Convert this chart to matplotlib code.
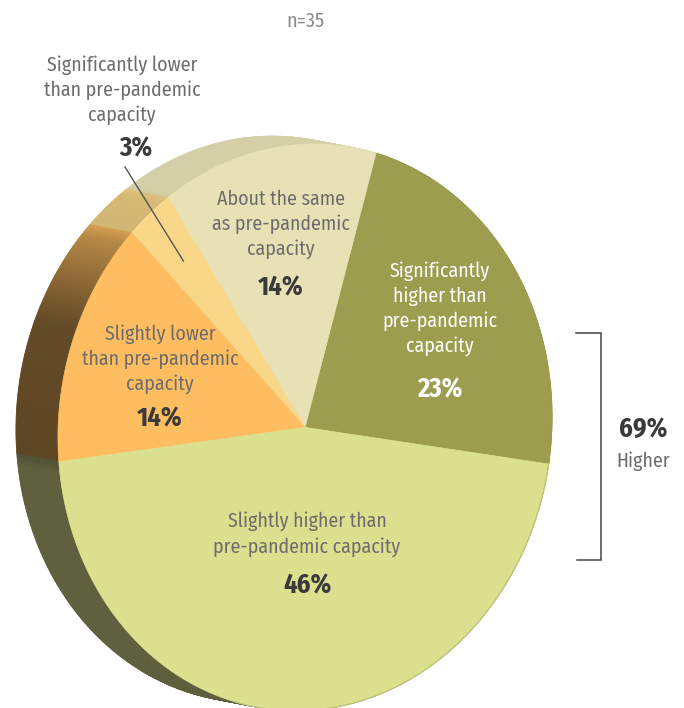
import numpy as np
import matplotlib.pyplot as plt
from matplotlib.patches import Polygon
from matplotlib.colors import to_rgb

# ---------------- data ----------------
categories = [
    "Significantly\nhigher than\npre-pandemic\ncapacity",
    "About the same\nas pre-pandemic\ncapacity",
    "Significantly lower\nthan pre-pandemic\ncapacity",
    "Slightly lower\nthan pre-pandemic\ncapacity",
    "Slightly higher than\npre-pandemic capacity",
]
shares = [23, 14, 3, 14, 46]
sample_note = "n=35"
group_share = 69
group_label = "Higher"

# ---------------- style ----------------
face_colors = ["#9d9d4f", "#e8e1b5", "#f8d888", "#fdbd60", "#dbe08f"]
label_colors = ["#ffffff", "#6c6c6c", "#6c6c6c", "#6c6c6c", "#6c6c6c"]
pct_colors = ["#ffffff", "#3a3a3a", "#3a3a3a", "#3a3a3a", "#3a3a3a"]
GRAY = "#6c6c6c"
DARK = "#3a3a3a"
FONT = ["Fira Sans Condensed", "DejaVu Sans"]

W, H, DPI = 684, 708, 100

# tilted disc: top face ellipse and the offset of its hidden bottom face
CX, CY = 305.0, 427.4
RA, RB = 246.4, 283.9
ROT = np.radians(7.39)
E1 = np.array([np.cos(ROT), np.sin(ROT)])
E2 = np.array([-np.sin(ROT), np.cos(ROT)])
DEPTH = np.array([-42.0, -8.0])
START = -1.0  # angle where the first slice begins (counter-clockwise)


def rim(t_deg, shift=(0.0, 0.0)):
    t = np.radians(np.atleast_1d(t_deg))
    x = CX + shift[0] + RA * np.cos(t) * E1[0] - RB * np.sin(t) * E2[0]
    y = CY + shift[1] + RA * np.cos(t) * E1[1] - RB * np.sin(t) * E2[1]
    return np.column_stack([x, y])


# light falling on the side wall, by angle around the disc
shade_t = [0, 80, 131, 134, 143, 146, 152, 166, 194, 196, 360]
shade_f = [0.90, 0.92, 0.92, 0.86, 0.84, 0.72, 0.62, 0.39, 0.37, 0.43, 0.43]

fig = plt.figure(figsize=(W / DPI, H / DPI), dpi=DPI)
ax = fig.add_axes([0, 0, 1, 1])
ax.set_xlim(0, W)
ax.set_ylim(H, 0)
ax.axis("off")

bounds = START + np.concatenate([[0], np.cumsum(shares)]) * 3.6

# side wall
for i in range(len(shares)):
    base = np.array(to_rgb(face_colors[i]))
    ts = np.arange(bounds[i], bounds[i + 1] + 1e-9, 0.5)
    if ts[-1] < bounds[i + 1]:
        ts = np.append(ts, bounds[i + 1])
    f = rim(ts)
    b = rim(ts, DEPTH)
    for k in range(len(ts) - 1):
        tm = (ts[k] + ts[k + 1]) / 2 % 360
        col = np.clip(base * np.interp(tm, shade_t, shade_f), 0, 1)
        poly = np.array([f[k], f[k + 1], b[k + 1], b[k]])
        ax.add_patch(Polygon(poly, closed=True, facecolor=col, edgecolor=col,
                             lw=0.6, zorder=1))

# top face
for i in range(len(shares)):
    ts = np.linspace(bounds[i], bounds[i + 1], 200)
    pts = np.vstack([[CX, CY], rim(ts)])
    ax.add_patch(Polygon(pts, closed=True, facecolor=face_colors[i],
                         edgecolor=face_colors[i], lw=0.5, zorder=2))

# faint rim on the lit right edge of the largest slice
edge_t = np.linspace(262, bounds[-1], 200)
edge = rim(edge_t)
ax.plot(edge[:, 0], edge[:, 1], color="#bfc477", lw=0.9, zorder=3)


def put_lines(x, y0, text, pitch, **kw):
    for j, line in enumerate(text.split("\n")):
        ax.text(x, y0 + j * pitch, line, ha="center", va="baseline",
                family=FONT, zorder=5, **kw)


LBL = 14.3
PCT = 19
label_pos = [(440, 277), (281, 205), (122, 71), (160, 340), (307, 527)]
pct_pos = [(440, 397), (281, 295), (136, 156), (160, 426), (307, 593)]
pitches = [25, 25, 25, 25, 26]
for i in range(len(shares)):
    put_lines(label_pos[i][0], label_pos[i][1], categories[i], pitches[i],
              fontsize=LBL, color=label_colors[i])
    ax.text(pct_pos[i][0], pct_pos[i][1], f"{shares[i]}%", ha="center",
            va="baseline", family=FONT, fontsize=PCT, fontweight="bold",
            color=pct_colors[i], zorder=5)

# leader from the small slice's label into the slice
mid = (bounds[2] + bounds[3]) / 2
tip = np.array([CX, CY]) + 0.78 * (rim(mid)[0] - np.array([CX, CY]))
ax.plot([125, tip[0]], [167, tip[1]], color="#555555", lw=1.0, zorder=6)

ax.text(305, 27, sample_note, ha="center", va="baseline", family=FONT,
        fontsize=14.5, color="#8c8c8c")

# bracket grouping the two "higher" slices
ax.plot([576, 601, 601, 577], [333, 333, 560, 560], color="#444444", lw=1.1,
        solid_joinstyle="miter")
ax.text(643, 437, f"{group_share}%", ha="center", va="baseline", family=FONT,
        fontsize=PCT, fontweight="bold", color=DARK)
ax.text(643, 467, group_label, ha="center", va="baseline", family=FONT,
        fontsize=LBL, color=GRAY)

fig.savefig("out.png", dpi=DPI)
